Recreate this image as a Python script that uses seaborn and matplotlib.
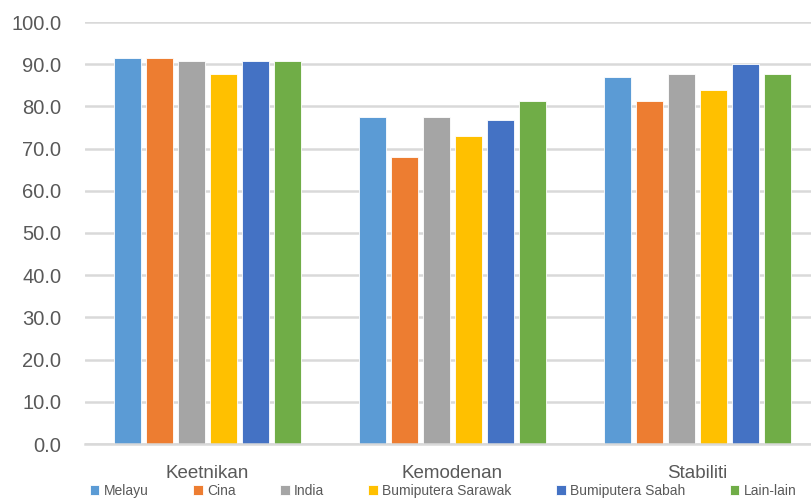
import matplotlib
matplotlib.use("Agg")
import matplotlib.pyplot as plt
import pandas as pd
import seaborn as sns

# data
categories = ["Keetnikan", "Kemodenan", "Stabiliti"]
groups = ["Melayu", "Cina", "India", "Bumiputera Sarawak", "Bumiputera Sabah", "Lain-lain"]
melayu = [91.5, 77.5, 87.0]
cina = [91.5, 68.0, 81.3]
india = [90.8, 77.5, 87.7]
sarawak = [87.7, 73.0, 83.9]
sabah = [90.8, 76.8, 90.0]
lain = [90.8, 81.3, 87.7]
colors = ["#5B9BD5", "#ED7D31", "#A5A5A5", "#FFC000", "#4472C4", "#70AD47"]

rows = []
for g, vals in zip(groups, [melayu, cina, india, sarawak, sabah, lain]):
    for c, v in zip(categories, vals):
        rows.append({"kategori": c, "kumpulan": g, "nilai": v})
df = pd.DataFrame(rows)

sns.set_style("white")
plt.rcParams["font.family"] = ["Liberation Sans", "DejaVu Sans"]

fig = plt.figure(figsize=(8.11, 5.0), dpi=100)
ax = fig.add_axes([85 / 811, 56 / 500, 735 / 811, 422 / 500])

sns.barplot(data=df, x="kategori", y="nilai", hue="kumpulan", order=categories,
            hue_order=groups, palette=colors, width=0.78, gap=0.16,
            edgecolor="white", linewidth=0.6, saturation=1, ax=ax)

ax.set_ylim(0, 100)
ax.set_xlim(-0.5, 2.5)
ax.set_yticks(range(0, 101, 10))
ax.set_yticklabels([f"{v:.1f}" for v in range(0, 101, 10)])
ax.yaxis.grid(True, color="#D9D9D9", linewidth=1.8)
ax.set_axisbelow(True)
for s in ["top", "right", "left"]:
    ax.spines[s].set_visible(False)
ax.spines["bottom"].set_color("#D9D9D9")
ax.spines["bottom"].set_linewidth(1.8)
ax.tick_params(axis="y", length=0, pad=17, labelsize=14.5, labelcolor="#595959")
ax.tick_params(axis="x", length=0, pad=15, labelsize=13.5, labelcolor="#595959")
ax.set_xlabel("")
ax.set_ylabel("")

handles, labels = ax.get_legend_handles_labels()
ax.legend_.remove()
fig.legend(handles, labels, loc="center", bbox_to_anchor=(443 / 811, 1 - 491 / 500),
           ncol=6, frameon=False, fontsize=10, labelcolor="#595959",
           handlelength=0.7, handleheight=0.7, handletextpad=0.3, columnspacing=3.2,
           borderaxespad=0, borderpad=0)

fig.savefig("out.png", dpi=100)
